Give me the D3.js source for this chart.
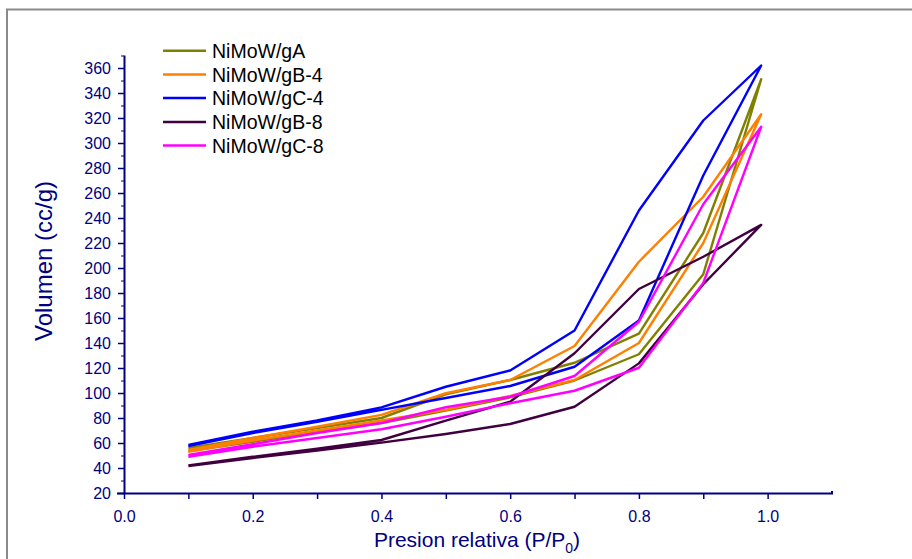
<!DOCTYPE html>
<html>
<head>
<meta charset="utf-8">
<script src="https://cdnjs.cloudflare.com/ajax/libs/d3/7.8.5/d3.min.js"></script>
<style>
  body { margin: 0; background: #fff; }
  svg { display: block; font-family: "Liberation Sans", Arial, sans-serif; }
</style>
</head>
<body>
<svg id="chart" width="912" height="559"></svg>
<script>
// relative pressure points (same for every branch)
var pressures = [0.1, 0.2, 0.3, 0.4, 0.5, 0.6, 0.7, 0.8, 0.9, 0.99]

var seriesNames = ["NiMoW/gA", "NiMoW/gB-4", "NiMoW/gC-4", "NiMoW/gB-8", "NiMoW/gC-8"]
var seriesColors = ["#808000", "#ff8000", "#0000ff", "#400040", "#ff00ff"]

// adsorption (lower) and desorption (upper) branches, cc/g
var gA_ads  = [53.5, 61, 69, 76, 86, 96.5, 110, 131, 195, 351]
var gA_des  = [56, 64, 72, 80, 99, 110.4, 124.2, 147.5, 228, 351]
var gB4_ads = [53, 62, 70, 78, 86.5, 97.6, 110.4, 140, 220, 323]
var gB4_des = [54.5, 64, 73, 82.5, 99.8, 110.4, 137.6, 205, 257, 323]
var gC4_ads = [57.5, 68, 77, 86.5, 96, 105.6, 121, 158, 274, 362]
var gC4_des = [58.5, 69, 78, 88.5, 105, 118, 150, 246, 318, 362]
var gB8_ads = [41.5, 48, 54, 60.3, 67.2, 75.2, 89, 123.7, 187, 234.5]
var gB8_des = [42, 49, 55.5, 62.4, 77.9, 93, 131.8, 183.2, 209, 234.5]
var gC8_ads = [49, 57, 64, 71, 81, 91.8, 101.8, 120.2, 188, 313]
var gC8_des = [50.5, 59, 68, 76, 88.6, 97, 113.6, 157, 251, 313]

var adsorption = [gA_ads, gB4_ads, gC4_ads, gB8_ads, gC8_ads]
var desorption = [gA_des, gB4_des, gC4_des, gB8_des, gC8_des]

var xTicks = [0.0, 0.2, 0.4, 0.6, 0.8, 1.0]
var yTicks = [20, 40, 60, 80, 100, 120, 140, 160, 180, 200, 220, 240, 260, 280, 300, 320, 340, 360]

var axisColor = "#000080"
var svg = d3.select("#chart")

// outer frame (only top and left visible)
svg.append("path")
  .attr("d", "M7,559 L7,9.5 L912,9.5")
  .attr("fill", "none")
  .attr("stroke", "#8a8a8a")
  .attr("stroke-width", 2)

var x = d3.scaleLinear().domain([0, 1.1]).range([124, 832])
var y = d3.scaleLinear().domain([20, 370]).range([493, 55.5])

// series
var line = d3.line()
  .x(function (d) { return x(d[0]) })
  .y(function (d) { return y(d[1]) })

seriesNames.forEach(function (name, i) {
  var pts = pressures.map(function (p, k) { return [p, adsorption[i][k]] })
  var back = pressures.map(function (p, k) { return [p, desorption[i][k]] }).reverse()
  svg.append("path")
    .datum(pts.concat(back))
    .attr("fill", "none")
    .attr("stroke", seriesColors[i])
    .attr("stroke-width", 2.4)
    .attr("stroke-linejoin", "round")
    .attr("d", line)
})

// x axis
var xAxis = svg.append("g")
  .attr("transform", "translate(0," + y(20) + ")")

xAxis.call(d3.axisBottom(x)
  .tickValues(d3.range(0, 11).map(function (v) { return v / 10 }))
  .tickSize(6)
  .tickPadding(9)
  .tickFormat(function (d) { return xTicks.some(function (t) { return Math.abs(t - d) < 1e-9 }) ? d3.format(".1f")(d) : "" }))

xAxis.select(".domain").attr("d", "M117,0.5H" + x(1.1) + "V-2")

// y axis
var yAxis = svg.append("g")
  .attr("transform", "translate(" + x(0) + ",0)")

yAxis.call(d3.axisLeft(y).tickValues(yTicks).tickSize(6).tickPadding(7).tickFormat(d3.format("d")))
yAxis.select(".domain").attr("d", "M0.5," + y(20) + "V" + y(370))

// minor y ticks
yAxis.selectAll(".minor")
  .data(d3.range(30, 371, 20))
  .enter().append("line")
  .attr("class", "minor")
  .attr("x1", -3).attr("x2", 0)
  .attr("y1", function (d) { return y(d) + 0.5 })
  .attr("y2", function (d) { return y(d) + 0.5 })
  .attr("stroke", axisColor)

svg.selectAll(".tick line").attr("stroke", axisColor).attr("stroke-width", 1.5)
svg.selectAll(".domain").attr("stroke", axisColor).attr("stroke-width", 2).attr("fill", "none")
svg.selectAll(".tick text")
  .attr("fill", axisColor)
  .style("font-size", "16px")
  .style("font-family", "'Liberation Sans', Arial, sans-serif")
xAxis.selectAll(".tick text").attr("dy", "0.9em")
yAxis.selectAll(".tick text").attr("dy", "0.36em")

// axis titles
var xTitle = svg.append("text")
  .attr("x", 477)
  .attr("y", 547)
  .attr("text-anchor", "middle")
  .attr("fill", axisColor)
  .style("font-size", "21px")
xTitle.append("tspan").text("Presion relativa (P/P")
xTitle.append("tspan").attr("dy", 6).style("font-size", "14px").text("0")
xTitle.append("tspan").attr("dy", -6).text(")")

svg.append("text")
  .attr("transform", "translate(52,261) rotate(-90)")
  .attr("text-anchor", "middle")
  .attr("fill", axisColor)
  .style("font-size", "24px")
  .text("Volumen (cc/g)")

// legend
var legend = svg.append("g")
var rowY = [50.7, 74.5, 98, 122, 145.5]
seriesNames.forEach(function (name, i) {
  legend.append("line")
    .attr("x1", 163).attr("x2", 206)
    .attr("y1", rowY[i]).attr("y2", rowY[i])
    .attr("stroke", seriesColors[i])
    .attr("stroke-width", 2.4)
  legend.append("text")
    .attr("x", 212)
    .attr("y", rowY[i] + 7)
    .attr("fill", "#000")
    .style("font-size", "19.5px")
    .text(name)
})
</script>
</body>
</html>
